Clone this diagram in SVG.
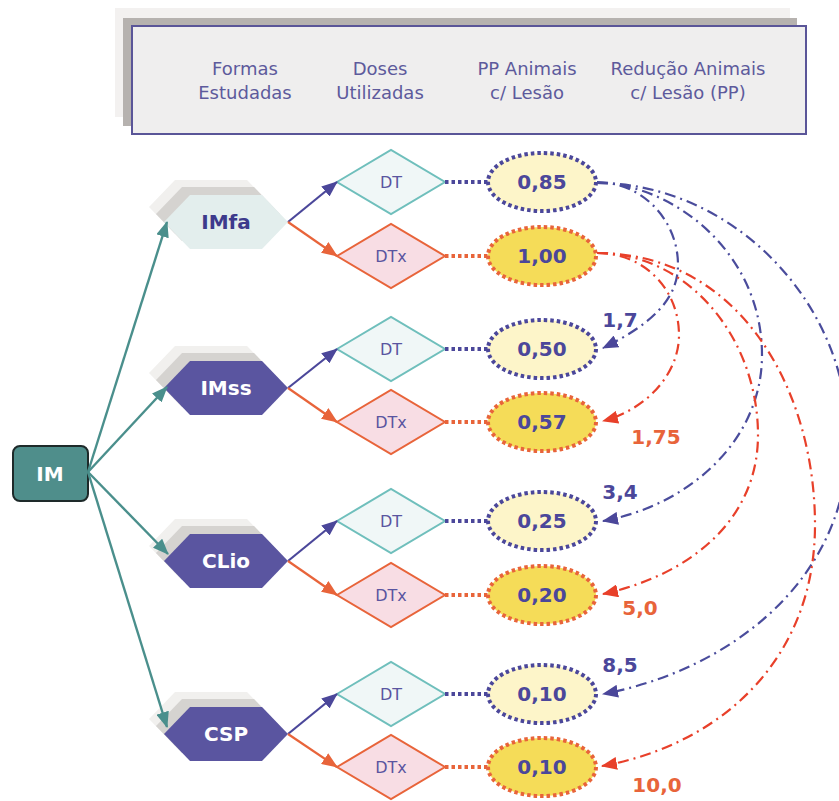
<svg xmlns="http://www.w3.org/2000/svg" width="839" height="801" viewBox="0 0 839 801">
<style>
.hdr{font-family:"DejaVu Sans","Liberation Sans",sans-serif;font-size:18px;fill:#5d5a9c;text-anchor:middle}
.hexlbl{font-family:"DejaVu Sans","Liberation Sans",sans-serif;font-size:20px;font-weight:bold;text-anchor:middle}
.dlbl{font-family:"DejaVu Sans","Liberation Sans",sans-serif;font-size:16px;fill:#5a55a0;text-anchor:middle}
.vlbl{font-family:"DejaVu Sans","Liberation Sans",sans-serif;font-size:20px;font-weight:bold;fill:#4b479a;text-anchor:middle}
.num{font-family:"DejaVu Sans","Liberation Sans",sans-serif;font-size:20px;font-weight:bold}
.sh1{fill:#f1f0ee}
.sh2{fill:#d5d3d0}
.dt{fill:#f0f7f7;stroke:#6fbfbc;stroke-width:2}
.dtx{fill:#f8dde4;stroke:#e8643a;stroke-width:2}
.ed{fill:#fdf5c9;stroke:#4b479a;stroke-width:4;stroke-dasharray:3.5 3}
.edx{fill:#f5dc58;stroke:#e8643a;stroke-width:4;stroke-dasharray:3.5 3}
.dotb{stroke:#4b479a;stroke-width:4;stroke-dasharray:3.5 3;fill:none}
.doto{stroke:#e8643a;stroke-width:4;stroke-dasharray:3.5 3;fill:none}
.teal{stroke:#4a8f8c;stroke-width:2.4;fill:none;marker-end:url(#mt)}
.ab{stroke:#4b479a;stroke-width:2.2;fill:none;marker-end:url(#mb)}
.ao{stroke:#e8643a;stroke-width:2.2;fill:none;marker-end:url(#mo)}
.cb{stroke:#4a4c9c;stroke-width:2.2;fill:none;stroke-dasharray:11 5 2 5;marker-end:url(#mb)}
.cr{stroke:#e8402a;stroke-width:2.2;fill:none;stroke-dasharray:11 5 2 5;marker-end:url(#mr)}
</style>
<defs>
<marker id="mt" viewBox="0 0 16 13" refX="15" refY="6.5" markerWidth="16" markerHeight="13" markerUnits="userSpaceOnUse" orient="auto"><path d="M0,0 L16,6.5 L0,13 Z" fill="#4a8f8c"/></marker>
<marker id="mb" viewBox="0 0 16 13" refX="15" refY="6.5" markerWidth="16" markerHeight="13" markerUnits="userSpaceOnUse" orient="auto"><path d="M0,0 L16,6.5 L0,13 Z" fill="#4b479a"/></marker>
<marker id="mo" viewBox="0 0 16 13" refX="15" refY="6.5" markerWidth="16" markerHeight="13" markerUnits="userSpaceOnUse" orient="auto"><path d="M0,0 L16,6.5 L0,13 Z" fill="#e8643a"/></marker>
<marker id="mr" viewBox="0 0 16 13" refX="15" refY="6.5" markerWidth="16" markerHeight="13" markerUnits="userSpaceOnUse" orient="auto"><path d="M0,0 L16,6.5 L0,13 Z" fill="#e8402a"/></marker>
<polygon id="hex" points="-62,0 -36,-27 36,-27 62,0 36,27 -36,27"/>
</defs>
<rect width="839" height="801" fill="#ffffff"/>

<g id="header">
<rect x="115" y="8" width="675" height="109" fill="#f3f1f0"/>
<rect x="123" y="18" width="674" height="108" fill="#b6b2af"/>
<rect x="132" y="26" width="674" height="108" fill="#efeeee" stroke="#5a5598" stroke-width="2"/>
<text class="hdr" x="245" y="75">Formas</text>
<text class="hdr" x="245" y="99">Estudadas</text>
<text class="hdr" x="380" y="75">Doses</text>
<text class="hdr" x="380" y="99">Utilizadas</text>
<text class="hdr" x="527" y="75">PP Animais</text>
<text class="hdr" x="527" y="99">c/ Lesão</text>
<text class="hdr" x="688" y="75">Redução Animais</text>
<text class="hdr" x="688" y="99">c/ Lesão (PP)</text>
</g>

<g id="IM">
<rect x="13" y="446" width="75" height="55" rx="7" fill="#4f8e8b" stroke="#1e2a2a" stroke-width="2"/>
<text class="hexlbl" x="50" y="481" fill="#ffffff" font-size="21">IM</text>
</g>

<g id="IMfa">
<use href="#hex" x="211" y="207" class="sh1"/>
<use href="#hex" x="218" y="214" class="sh2"/>
<use href="#hex" x="226" y="222" fill="#e3eeed"/>
<text class="hexlbl" x="226" y="229" fill="#3d3a8c">IMfa</text>
</g>
<g id="IMss">
<use href="#hex" x="211" y="373" class="sh1"/>
<use href="#hex" x="218" y="380" class="sh2"/>
<use href="#hex" x="226" y="388" fill="#5a55a0"/>
<text class="hexlbl" x="226" y="395" fill="#ffffff">IMss</text>
</g>
<g id="CLio">
<use href="#hex" x="211" y="546" class="sh1"/>
<use href="#hex" x="218" y="553" class="sh2"/>
<use href="#hex" x="226" y="561" fill="#5a55a0"/>
<text class="hexlbl" x="226" y="568" fill="#ffffff">CLio</text>
</g>
<g id="CSP">
<use href="#hex" x="211" y="719" class="sh1"/>
<use href="#hex" x="218" y="726" class="sh2"/>
<use href="#hex" x="226" y="734" fill="#5a55a0"/>
<text class="hexlbl" x="226" y="741" fill="#ffffff">CSP</text>
</g>

<g id="DT1"><polygon class="dt" points="337,182 391,150 445,182 391,214"/><text class="dlbl" x="391" y="188">DT</text></g>
<g id="DTx1"><polygon class="dtx" points="337,256 391,224 445,256 391,288"/><text class="dlbl" x="391" y="262">DTx</text></g>
<g id="DT2"><polygon class="dt" points="337,349 391,317 445,349 391,381"/><text class="dlbl" x="391" y="355">DT</text></g>
<g id="DTx2"><polygon class="dtx" points="337,422 391,390 445,422 391,454"/><text class="dlbl" x="391" y="428">DTx</text></g>
<g id="DT3"><polygon class="dt" points="337,521 391,489 445,521 391,553"/><text class="dlbl" x="391" y="527">DT</text></g>
<g id="DTx3"><polygon class="dtx" points="337,595 391,563 445,595 391,627"/><text class="dlbl" x="391" y="601">DTx</text></g>
<g id="DT4"><polygon class="dt" points="337,694 391,662 445,694 391,726"/><text class="dlbl" x="391" y="700">DT</text></g>
<g id="DTx4"><polygon class="dtx" points="337,767 391,735 445,767 391,799"/><text class="dlbl" x="391" y="773">DTx</text></g>

<g id="E1"><ellipse class="ed" cx="542" cy="182" rx="54" ry="29"/><text class="vlbl" x="542" y="189">0,85</text></g>
<g id="E2"><ellipse class="edx" cx="542" cy="256" rx="54" ry="29"/><text class="vlbl" x="542" y="263">1,00</text></g>
<g id="E3"><ellipse class="ed" cx="542" cy="349" rx="54" ry="29"/><text class="vlbl" x="542" y="356">0,50</text></g>
<g id="E4"><ellipse class="edx" cx="542" cy="422" rx="54" ry="29"/><text class="vlbl" x="542" y="429">0,57</text></g>
<g id="E5"><ellipse class="ed" cx="542" cy="521" rx="54" ry="29"/><text class="vlbl" x="542" y="528">0,25</text></g>
<g id="E6"><ellipse class="edx" cx="542" cy="595" rx="54" ry="29"/><text class="vlbl" x="542" y="602">0,20</text></g>
<g id="E7"><ellipse class="ed" cx="542" cy="694" rx="54" ry="29"/><text class="vlbl" x="542" y="701">0,10</text></g>
<g id="E8"><ellipse class="edx" cx="542" cy="767" rx="54" ry="29"/><text class="vlbl" x="542" y="774">0,10</text></g>

<g id="connectors">
<path class="teal" d="M88,472 L167,222"/>
<path class="teal" d="M88,472 L167,387"/>
<path class="teal" d="M88,472 L168,554"/>
<path class="teal" d="M88,472 L167,727"/>

<path class="ab" d="M288,222 L337,182"/>
<path class="ao" d="M288,222 L337,256"/>
<path class="ab" d="M288,388 L337,349"/>
<path class="ao" d="M288,388 L337,422"/>
<path class="ab" d="M288,561 L337,521"/>
<path class="ao" d="M288,561 L337,595"/>
<path class="ab" d="M288,734 L337,694"/>
<path class="ao" d="M288,734 L337,767"/>

<path class="dotb" d="M445,182 L488,182"/>
<path class="doto" d="M445,256 L488,256"/>
<path class="dotb" d="M445,349 L488,349"/>
<path class="doto" d="M445,422 L488,422"/>
<path class="dotb" d="M445,521 L488,521"/>
<path class="doto" d="M445,595 L488,595"/>
<path class="dotb" d="M445,694 L488,694"/>
<path class="doto" d="M445,767 L488,767"/>

<path class="cb" d="M597,182 C642,182 678,220 678,265 C678,300 650,325 603,348"/>
<path class="cb" d="M597,183 C670,183 762,250 762,355 C762,440 690,505 603,521"/>
<path class="cb" d="M597,183 C730,183 848,300 848,440 C848,580 730,670 603,694"/>
<path class="cr" d="M597,253 C645,253 679,290 679,335 C679,375 645,410 603,421"/>
<path class="cr" d="M597,253 C690,253 758,340 758,435 C758,520 690,575 603,594"/>
<path class="cr" d="M597,253 C740,253 815,390 815,525 C815,660 720,745 602,766"/>

<text class="num" x="620" y="327" text-anchor="middle" fill="#4b479a">1,7</text>
<text class="num" x="656" y="444" text-anchor="middle" fill="#e8643a">1,75</text>
<text class="num" x="620" y="499" text-anchor="middle" fill="#4b479a">3,4</text>
<text class="num" x="640" y="615" text-anchor="middle" fill="#e8643a">5,0</text>
<text class="num" x="620" y="672" text-anchor="middle" fill="#4b479a">8,5</text>
<text class="num" x="657" y="792" text-anchor="middle" fill="#e8643a">10,0</text>
</g>
</svg>
